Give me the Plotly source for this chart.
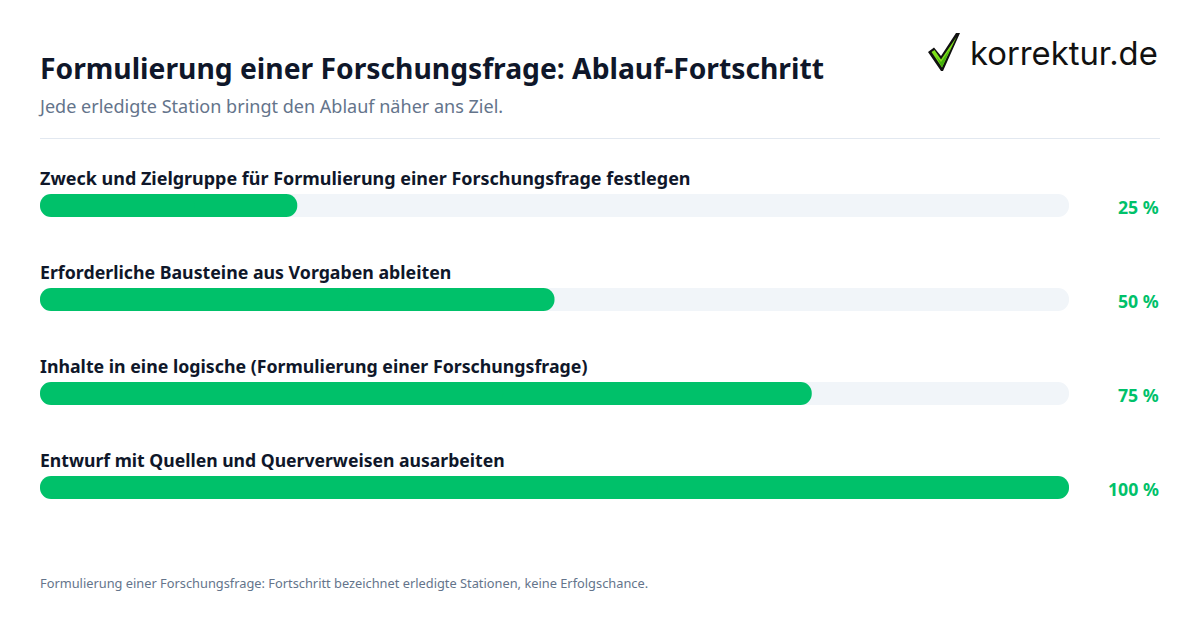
import plotly.graph_objects as go

WIDTH = 1200
HEIGHT = 630
LEFT = 40
RIGHT_EDGE = 1069
TOP = 158
BOTTOM = 534

FONT = 'Noto Sans'
INK = '#0f172a'
MUTED = '#64748b'
GREEN = '#00c16a'
TRACK = '#f1f5f9'

TITLE = 'Formulierung einer Forschungsfrage: Ablauf-Fortschritt'
SUBTITLE = 'Jede erledigte Station bringt den Ablauf näher ans Ziel.'
FOOTER = ('Formulierung einer Forschungsfrage: Fortschritt bezeichnet '
          'erledigte Stationen, keine Erfolgschance.')
LOGO_TEXT = 'korrektur.de'

steps = [
    'Zweck und Zielgruppe für Formulierung einer Forschungsfrage festlegen',
    'Erforderliche Bausteine aus Vorgaben ableiten',
    'Inhalte in eine logische (Formulierung einer Forschungsfrage)',
    'Entwurf mit Quellen und Querverweisen ausarbeiten',
]
progress = [25, 50, 75, 100]
track = [100, 100, 100, 100]

# noto runs a bit wide on some lines, sizes trimmed to the original widths
LABEL_SIZES = [17.97, 17.75, 17.75, 17.6]


def px_x(x):
    return (x - LEFT) / (RIGHT_EDGE - LEFT)


def px_y(y):
    return (BOTTOM - y) / (BOTTOM - TOP)


def page_text(x, y, text, size, color, bold=False, anchor='left', font=FONT):
    fig.add_annotation(
        x=px_x(x), y=px_y(y), xref='paper', yref='paper',
        text='<b>'+text+'</b>' if bold else text,
        showarrow=False, xanchor=anchor, yanchor='middle',
        borderpad=0, align=anchor,
        font={'family': font, 'size': size, 'color': color}
    )


def logo_path(points):
    coords = [str(px_x(x))+','+str(px_y(y)) for x, y in points]
    return 'M'+' L'.join(coords)+' Z'


def add_logo_shape(points, color):
    fig.add_shape(
        type='path', xref='paper', yref='paper', layer='above',
        path=logo_path(points), fillcolor=color, line={'width': 0}
    )


def add_pill(values, color):
    # plotly only rounds the far end of a bar, so each pill is two
    # overlapping bars growing away from each other
    fig.add_trace(go.Bar(
        x=[v*0.6 for v in values], base=[v*0.4 for v in values], y=steps,
        orientation='h', marker={'color': color, 'line': {'width': 0}},
        hoverinfo='skip'
    ))
    fig.add_trace(go.Bar(
        x=[-v*0.6 for v in values], base=[v*0.6 for v in values], y=steps,
        orientation='h', marker={'color': color, 'line': {'width': 0}},
        hoverinfo='skip'
    ))


fig = go.Figure()

# grey tracks, then the green fill on top
add_pill(track, TRACK)
add_pill(progress, GREEN)

fig.update_layout(
    width=WIDTH, height=HEIGHT,
    margin={'l': LEFT, 'r': WIDTH-RIGHT_EDGE, 't': TOP, 'b': HEIGHT-BOTTOM,
            'pad': 0},
    autosize=False,
    paper_bgcolor='white', plot_bgcolor='white',
    barmode='overlay', bargap=1-23/94, barcornerradius=12,
    showlegend=False,
    font={'family': FONT}
)
fig.update_xaxes(range=[0, 100], visible=False, fixedrange=True)
# half a pixel down so the bar edges land on whole pixels
row_shift = 0.5/94
fig.update_yaxes(
    range=[3.5-row_shift, -0.5-row_shift], visible=False, fixedrange=True
)

# step labels above the bars, percentages to the right
for i, step in enumerate(steps):
    fig.add_annotation(
        x=0, y=step, xref='x', yref='y', text='<b>'+step+'</b>',
        showarrow=False, xanchor='left', yanchor='middle', yshift=27.5,
        xshift=-1, borderpad=0,
        font={'family': FONT, 'size': LABEL_SIZES[i], 'color': INK}
    )
    fig.add_annotation(
        x=px_x(1160), y=step, xref='paper', yref='y',
        text='<b>'+str(progress[i])+' %</b>',
        showarrow=False, xanchor='right', yanchor='middle', yshift=-1.5,
        borderpad=0, font={'family': FONT, 'size': 17.7, 'color': GREEN}
    )

# header, footer
page_text(38.5, 68, TITLE, 28.25, INK, bold=True)
page_text(37, 106, SUBTITLE, 18.04, MUTED)
page_text(39, 583, FOOTER, 12.82, MUTED)
fig.add_shape(
    type='line', xref='paper', yref='paper',
    x0=px_x(40), x1=px_x(1160), y0=px_y(138.5), y1=px_y(138.5),
    line={'color': '#e2e8f0', 'width': 1}
)

# logo
page_text(969, 53, LOGO_TEXT, 32.8, '#111111', font='Inter')
add_logo_shape(
    [(928, 52), (934, 47.5), (941, 56), (956, 33), (960, 33),
     (943, 71), (941, 71)],
    '#111111'
)
add_logo_shape(
    [(931.5, 52), (934.5, 50), (941, 59.5), (956.5, 37), (942, 67.5)],
    '#7fe01a'
)
add_logo_shape(
    [(936, 56), (941, 62), (950, 49), (942, 67.5)],
    '#45b010'
)

fig.write_html(
    'out.html',
    config={'displayModeBar': False},
    post_script="document.body.style.margin='0';"
)
